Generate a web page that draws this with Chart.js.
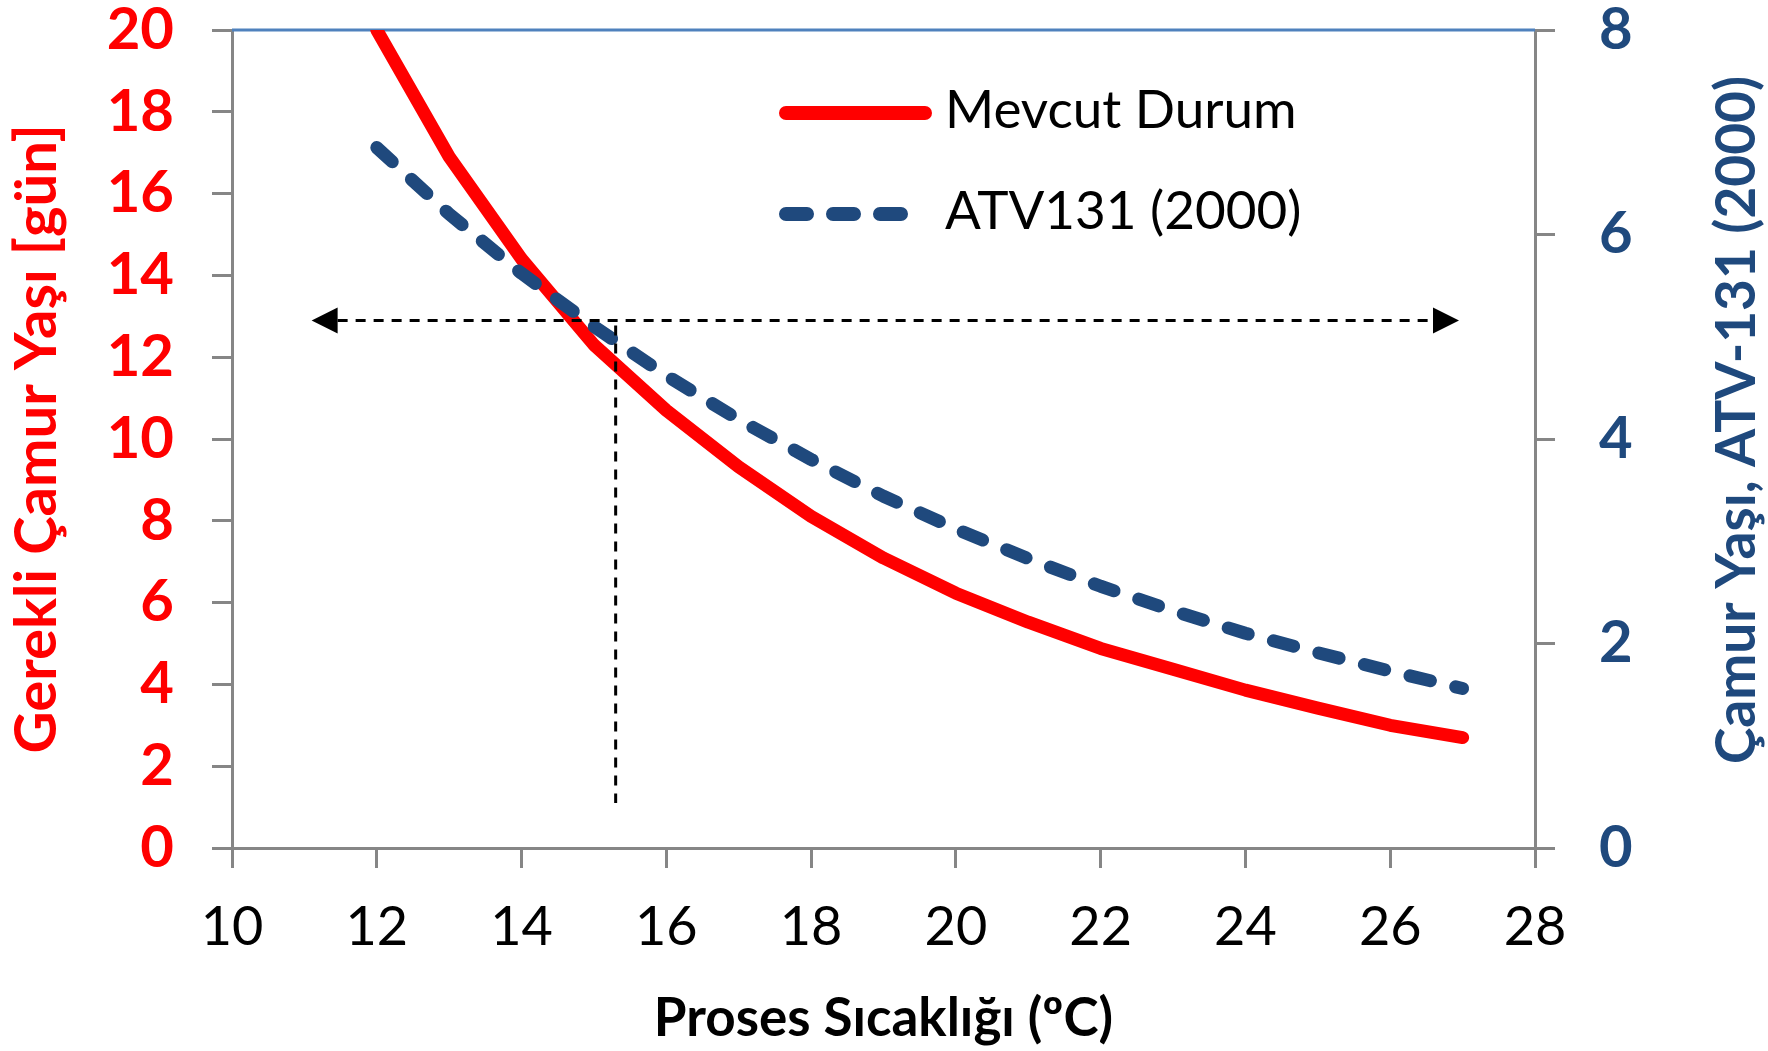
<!DOCTYPE html>
<html>
<head>
<meta charset="utf-8">
<title>Gerekli Çamur Yaşı</title>
<script src="https://cdn.jsdelivr.net/npm/chart.js@4.4.1/dist/chart.umd.min.js"></script>
<style>
  html, body { margin: 0; padding: 0; background: #fff; }
  canvas { display: block; }
</style>
</head>
<body>
<canvas id="myChart" width="1768" height="1051"></canvas>
<script>
// process temperature (°C)
const temps = [12, 13, 14, 15, 16, 17, 18, 19, 20, 21, 22, 23, 24, 25, 26, 27];
// Mevcut Durum, left axis [gün]
const mevcut = [20.0, 16.9, 14.4, 12.3, 10.7, 9.32, 8.11, 7.09, 6.23, 5.52, 4.88, 4.37, 3.86, 3.42, 3.0, 2.7];
// ATV131 (2000), right axis
const atv = [6.85, 6.2, 5.62, 5.1, 4.62, 4.19, 3.8, 3.44, 3.12, 2.83, 2.56, 2.32, 2.1, 1.91, 1.73, 1.56];

const xTicks = [10, 12, 14, 16, 18, 20, 22, 24, 26, 28];
const leftTicks = [0, 2, 4, 6, 8, 10, 12, 14, 16, 18, 20];
const rightTicks = [0, 2, 4, 6, 8];

// dashed guide (data units of x / left axis)
const guideY = 12.9;
const guideX = 15.3;
const guideFrom = 11.1, guideTo = 26.95;
const guideBottom = 1.1;

const RED = '#FF0000';
const NAVY = '#1F497D';
const GREY = '#868686';
const FONT = 'Lato, "Noto Sans", sans-serif';

Chart.defaults.font.family = FONT;

const ctx = document.getElementById('myChart').getContext('2d');

const axisLine = { color: GREY, width: 3 };
const axisGrid = { drawOnChartArea: false, drawTicks: true, tickLength: 20, color: GREY, lineWidth: 3 };

const noPad = s => { s.paddingTop = 0; s.paddingBottom = 0; s.paddingLeft = 0; s.paddingRight = 0; };

const extras = {
  id: 'extras',
  beforeDatasetsDraw(chart) {
    const { ctx, chartArea: a } = chart;
    ctx.save();
    ctx.strokeStyle = '#4F81BD';
    ctx.lineWidth = 3;
    ctx.beginPath();
    ctx.moveTo(a.left, a.top);
    ctx.lineTo(a.right, a.top);
    ctx.stroke();
    ctx.restore();
  },
  afterDatasetsDraw(chart) {
    const { ctx, scales: { x, y } } = chart;
    const gy = y.getPixelForValue(guideY);
    const x1 = x.getPixelForValue(guideFrom);
    const x2 = x.getPixelForValue(guideTo);
    const vx = x.getPixelForValue(guideX);
    const head = 26, half = 13;
    ctx.save();
    ctx.strokeStyle = '#000';
    ctx.fillStyle = '#000';
    ctx.lineWidth = 3;
    ctx.setLineDash([10, 8]);
    ctx.beginPath();
    ctx.moveTo(x1 + head, gy);
    ctx.lineTo(x2 - head, gy);
    ctx.stroke();
    ctx.beginPath();
    ctx.moveTo(vx, gy + 5);
    ctx.lineTo(vx, y.getPixelForValue(guideBottom));
    ctx.stroke();
    ctx.setLineDash([]);
    ctx.beginPath();
    ctx.moveTo(x1, gy);
    ctx.lineTo(x1 + head, gy - half);
    ctx.lineTo(x1 + head, gy + half);
    ctx.closePath();
    ctx.fill();
    ctx.beginPath();
    ctx.moveTo(x2, gy);
    ctx.lineTo(x2 - head, gy - half);
    ctx.lineTo(x2 - head, gy + half);
    ctx.closePath();
    ctx.fill();
    ctx.restore();
  },
  afterDraw(chart) {
    const { ctx } = chart;
    const ds = chart.data.datasets;
    // legend
    const rows = [113, 214];
    ctx.save();
    ds.forEach((d, i) => {
      const ly = rows[i];
      ctx.strokeStyle = d.borderColor;
      ctx.lineWidth = 14;
      ctx.lineCap = 'round';
      ctx.setLineDash(d.borderDash || []);
      ctx.beginPath();
      ctx.moveTo(786, ly);
      ctx.lineTo(i === 0 ? 925 : 910, ly);
      ctx.stroke();
      ctx.setLineDash([]);
      ctx.fillStyle = '#000';
      ctx.font = '53px ' + FONT;
      ctx.textBaseline = 'middle';
      ctx.textAlign = 'left';
      ctx.fillText(d.label, 945, ly - 2);
    });
    // right axis title, reads bottom to top
    ctx.translate(1737, 420);
    ctx.rotate(-Math.PI / 2);
    ctx.fillStyle = NAVY;
    ctx.font = 'bold 55px ' + FONT;
    ctx.textAlign = 'center';
    ctx.textBaseline = 'middle';
    ctx.fillText('Çamur Yaşı, ATV-131 (2000)', 0, 0);
    ctx.restore();
  }
};

const data = {
  datasets: [
    {
      label: 'Mevcut Durum',
      data: temps.map((t, i) => ({ x: t, y: mevcut[i] })),
      borderColor: RED,
      borderWidth: 13,
      borderCapStyle: 'round',
      borderJoinStyle: 'round',
      pointRadius: 0,
      yAxisID: 'y',
      clip: { left: 20, right: 20, top: 0, bottom: 20 },
      order: 2
    },
    {
      label: 'ATV131 (2000)',
      data: temps.map((t, i) => ({ x: t, y: atv[i] })),
      borderColor: NAVY,
      borderWidth: 13,
      borderDash: [21, 26],
      borderCapStyle: 'round',
      borderJoinStyle: 'round',
      pointRadius: 0,
      yAxisID: 'y2',
      order: 1
    }
  ]
};

const config = {
  type: 'line',
  data: data,
  options: {
    responsive: false,
    animation: false,
    layout: { padding: { top: 30, left: 0, right: 0, bottom: 0 } },
    plugins: { legend: { display: false }, tooltip: { enabled: false } },
    scales: {
      x: {
        type: 'linear',
        min: 10,
        max: 28,
        afterBuildTicks: s => { s.ticks = xTicks.map(v => ({ value: v })); },
        afterFit: s => { s.height = 203; noPad(s); },
        border: axisLine,
        grid: axisGrid,
        ticks: { color: '#000', padding: 27, font: { size: 54 } },
        title: {
          display: true,
          text: 'Proses Sıcaklığı (ºC)',
          color: '#000',
          font: { size: 53, weight: 'bold' },
          padding: { top: 0, bottom: 0 }
        }
      },
      y: {
        position: 'left',
        min: 0,
        max: 20,
        afterBuildTicks: s => { s.ticks = leftTicks.map(v => ({ value: v })); },
        afterFit: s => { s.width = 232; noPad(s); },
        border: axisLine,
        grid: axisGrid,
        ticks: { color: RED, padding: 38, font: { size: 58, weight: 'bold' } },
        title: {
          display: true,
          text: 'Gerekli Çamur Yaşı [gün]',
          color: RED,
          font: { size: 58, weight: 'bold' },
          padding: { top: 2, bottom: 0 }
        }
      },
      y2: {
        position: 'right',
        min: 0,
        max: 8,
        afterBuildTicks: s => { s.ticks = rightTicks.map(v => ({ value: v })); },
        afterFit: s => { s.width = 233; noPad(s); },
        border: axisLine,
        grid: axisGrid,
        ticks: { color: NAVY, padding: 44, font: { size: 58, weight: 'bold' } }
      }
    }
  },
  plugins: [extras]
};

const myChart = new Chart(ctx, config);
</script>
</body>
</html>
